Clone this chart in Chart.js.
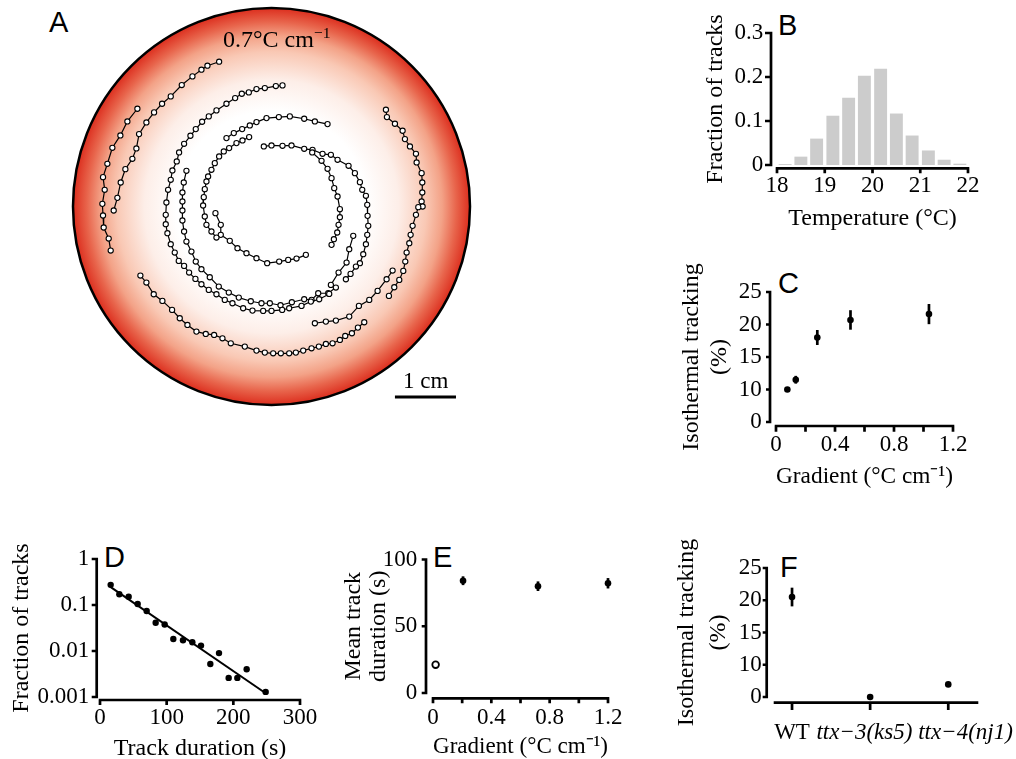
<!DOCTYPE html>
<html lang="en">
<head>
<meta charset="UTF-8">
<title>Isothermal tracking</title>
<style>
  html, body { margin: 0; padding: 0; background: #fff; overflow: hidden; }
  body { width: 1016px; height: 759px; position: relative; font-family: 'Liberation Serif', 'Times New Roman', serif; }
  canvas { position: absolute; }
  .panel { position: absolute; font-family: 'Liberation Sans', Arial, sans-serif; font-size: 29px; line-height: 1; }
  .note { position: absolute; line-height: 1; white-space: nowrap; }
  sup { font-size: 0.65em; line-height: 0; vertical-align: 0.6em; }
</style>
</head>
<body>
<div class="panel" style="left:49px;top:8px">A</div>
<div class="panel" style="left:778px;top:11px">B</div>
<div class="panel" style="left:778px;top:269px">C</div>
<div class="panel" style="left:104px;top:543px">D</div>
<div class="panel" style="left:433px;top:543px">E</div>
<div class="panel" style="left:780px;top:553px">F</div>

<canvas id="chartA" width="420" height="420" style="left:60px;top:0px"></canvas>
<canvas id="chartB" width="310" height="233" style="left:700px;top:0px"></canvas>
<canvas id="chartC" width="335" height="241" style="left:675px;top:250px"></canvas>
<canvas id="chartD" width="325" height="233" style="left:5px;top:530px"></canvas>
<canvas id="chartE" width="310" height="231" style="left:340px;top:530px"></canvas>
<canvas id="chartF" width="387" height="229" style="left:670px;top:530px"></canvas>

<div class="note" style="left:223px;top:27px;font-size:24px">0.7°C cm<sup>−1</sup></div>
<div class="note" style="left:403px;top:369px;font-size:23px">1 cm</div>

<script src="https://cdn.jsdelivr.net/npm/chart.js"></script>
<script>
// ---------- A: tracks on the radial gradient plate ----------
// plate coordinates in image units (about 183 units per cm), y grows downwards
const plateCenter = [635, 620];
const plateRadius = 595;
const scaleBarX = [1005, 1188];
const scaleBarY = 1191;

const track1 = [[478,186],[443,198],[425,210],[398,230],[366,256],[333,290],[307,312],[283,338],[260,368],[238,403],[230,446],[218,477],[197,508],[183,548],[173,594],[162,632]];
const track2 = [[233,327],[203,365],[182,407],[158,444],[143,492],[130,532],[135,570],[128,612],[130,647],[132,683],[147,716],[153,752]];
const track3 = [[668,257],[648,259],[615,265],[590,268],[567,278],[546,282],[526,295],[500,312],[470,332],[447,350],[427,366],[408,388],[392,408],[373,432],[358,458],[351,485],[338,512],[333,540],[325,570],[320,608],[318,645],[318,673],[323,700],[333,733],[345,758],[357,783],[373,798],[388,818],[407,837],[425,853],[447,870],[470,883],[495,900],[518,910],[550,925],[578,932],[610,933],[635,933],[667,930],[688,925],[725,918],[753,905],[778,898],[808,882]];
const track4 = [[380,513],[372,548],[368,578],[368,605],[368,632],[368,662],[373,695],[380,725],[395,755],[408,785],[425,808],[450,832],[477,860],[507,878],[537,893],[573,904],[605,910],[630,910],[662,916],[696,907],[733,898],[755,900],[775,880],[805,880],[828,863]];
const track5 = [[568,412],[548,422],[530,430],[508,445],[492,455],[478,470],[465,490],[455,510],[445,530],[440,545],[435,568],[432,592],[430,617],[435,650],[440,675],[455,695],[470,713]];
const track6 = [[500,415],[522,400],[547,388],[570,377],[590,367],[620,355],[657,352],[690,350],[733,357],[765,365],[803,373]];
const track7 = [[467,640],[483,675],[483,705],[510,723],[533,745],[560,760],[590,775],[622,790],[658,785],[685,780],[710,776],[738,765]];
const track8 = [[757,458],[785,483],[803,507],[815,535],[823,565],[833,590],[840,628],[840,652],[836,675],[832,698],[822,718],[815,735]];
const track9 = [[612,440],[635,437],[668,438],[695,437],[733,447],[758,450],[788,462],[813,465],[833,480],[866,498],[885,520],[900,547],[907,570],[918,588],[922,615],[923,648],[925,678],[922,705],[918,733],[910,763],[900,790],[888,800],[872,822],[858,838]];
const track10 = [[880,708],[868,748],[860,788],[836,818],[813,855]];
const track11 = [[765,970],[798,965],[828,962],[868,950],[897,918],[928,900],[953,873],[980,838],[998,812]];
const track12 = [[978,330],[981,352],[1005,372],[1028,393],[1035,418],[1050,440],[1068,462],[1070,488],[1085,520],[1087,548],[1087,578],[1085,605],[1088,620],[1075,622],[1068,645],[1058,678],[1052,705],[1048,730],[1040,758],[1036,785],[1030,813],[1018,840],[1003,862],[987,888]];
const track13 = [[242,827],[260,848],[282,883],[308,903],[337,930],[360,955],[383,975],[410,995],[438,1002],[463,1005],[488,1015],[513,1030],[555,1040],[590,1052],[615,1058],[640,1060],[663,1060],[688,1060],[708,1058],[730,1052],[755,1045],[777,1040],[798,1032],[818,1030],[840,1020],[856,1008],[876,1000],[894,983],[913,967]];
const tracks = [track1, track2, track3, track4, track5, track6, track7, track8, track9, track10, track11, track12, track13];

// ---------- B: temperature histogram ----------
const tempBins = [18.17, 18.5, 18.83, 19.17, 19.5, 19.83, 20.17, 20.5, 20.83, 21.17, 21.5, 21.83];
const fracTracks = [0.002, 0.019, 0.060, 0.112, 0.153, 0.203, 0.219, 0.117, 0.067, 0.033, 0.012, 0.003];

// ---------- C: isothermal tracking vs gradient ----------
const gradC = [0.077, 0.134, 0.28, 0.505, 1.037];
const isoC = [10.0, 11.5, 18.0, 20.7, 21.6];
const isoCErr = [0.3, 0.6, 1.15, 1.5, 1.55];

// ---------- D: track duration distribution ----------
const durD = [16, 29, 43, 56.5, 70, 83.5, 97, 110, 124.5, 138.5, 151.5, 165.5, 178.5, 193, 206, 220, 248.5];
const fracD = [0.274, 0.171, 0.152, 0.105, 0.074, 0.041, 0.0377, 0.0183, 0.0171, 0.0155, 0.0131, 0.0052, 0.0090, 0.0026, 0.0026, 0.0040, 0.00129];
const fitDx = [15, 248];
const fitDy = [0.25, 0.00122];

// ---------- E: mean track duration ----------
const gradE = [0.206, 0.72, 1.2];
const durE = [84.1, 80.0, 82.2];
const durEErr = [3.3, 3.6, 3.9];
const gradE0 = [0.018];
const durE0 = [21.2];

// ---------- F: mutants ----------
const strains = ['WT', 'ttx\u22123(ks5)', 'ttx\u22124(nj1)'];
const isoF = [20.5, 0, 3.9];
const isoFErr = [1.45, 0, 0];

// the 0-10 % stretch of the C and F axes is squeezed into one tick interval
function brk(v) { return v >= 10 ? v : 5 + v / 2; }

const serif = "'Liberation Serif', 'Times New Roman', serif";

// axis lines drawn a little away from the plot area, like the original figure
const frameAxes = {
    id: 'frameAxes',
    afterDraw(chart, args, o) {
        const { ctx, chartArea: a, scales: { x, y } } = chart;
        const lx = a.left - o.gapY;
        const ly = a.bottom + o.gapX;
        ctx.save();
        ctx.strokeStyle = '#000';
        ctx.lineWidth = 2.7;
        ctx.beginPath();
        ctx.moveTo(lx, y.getPixelForValue(y.min) + 1.3);
        ctx.lineTo(lx, y.getPixelForValue(y.max) - 1.3);
        y.ticks.forEach(t => {
            const p = y.getPixelForValue(t.value);
            ctx.moveTo(lx, p);
            ctx.lineTo(lx - o.tickY, p);
        });
        ctx.moveTo(x.getPixelForValue(x.min) - 1.3, ly);
        ctx.lineTo(x.getPixelForValue(x.max) + 1.3, ly);
        x.ticks.forEach(t => {
            const p = x.getPixelForValue(t.value);
            ctx.moveTo(p, ly);
            ctx.lineTo(p, ly + o.tickX);
        });
        ctx.stroke();
        ctx.restore();
    }
};

const errorBars = {
    id: 'errorBars',
    beforeDatasetsDraw(chart) {
        const { ctx, scales: { x, y } } = chart;
        ctx.save();
        ctx.strokeStyle = '#000';
        ctx.lineWidth = 2.7;
        chart.data.datasets.forEach(ds => {
            if (!ds.errors) return;
            ds.data.forEach((p, i) => {
                const e = ds.errors[i];
                if (!e || e[0] === e[1]) return;
                const px = x.getPixelForValue(p.x);
                ctx.beginPath();
                ctx.moveTo(px, y.getPixelForValue(e[0]));
                ctx.lineTo(px, y.getPixelForValue(e[1]));
                ctx.stroke();
            });
        });
        ctx.restore();
    }
};

const plate = {
    id: 'plate',
    beforeDatasetsDraw(chart) {
        const { ctx, scales: { x, y } } = chart;
        const cx = x.getPixelForValue(plateCenter[0]);
        const cy = y.getPixelForValue(plateCenter[1]);
        const r = x.getPixelForValue(plateCenter[0] + plateRadius) - cx;
        const g = ctx.createRadialGradient(cx, cy, 0, cx, cy, r);
        g.addColorStop(0, '#ffffff');
        g.addColorStop(0.48, '#ffffff');
        g.addColorStop(0.64, '#fdeee8');
        g.addColorStop(0.78, '#f9c8b4');
        g.addColorStop(0.86, '#f3a287');
        g.addColorStop(0.93, '#e8654c');
        g.addColorStop(1, '#dc2e1e');
        ctx.save();
        ctx.beginPath();
        ctx.arc(cx, cy, r, 0, Math.PI * 2);
        ctx.fillStyle = g;
        ctx.fill();
        ctx.lineWidth = 2.5;
        ctx.strokeStyle = '#000';
        ctx.stroke();
        ctx.beginPath();
        ctx.moveTo(x.getPixelForValue(scaleBarX[0]), y.getPixelForValue(scaleBarY));
        ctx.lineTo(x.getPixelForValue(scaleBarX[1]), y.getPixelForValue(scaleBarY));
        ctx.lineWidth = 3.2;
        ctx.stroke();
        ctx.restore();
    }
};

// common axis builders
function yAxis(o) {
    return {
        type: o.type || 'linear',
        min: o.min,
        max: o.max,
        afterFit: s => { s.width = o.width; },
        afterBuildTicks: s => { s.ticks = o.ticks.map(v => ({ value: v })); },
        grid: { display: false, drawTicks: false },
        border: { display: false },
        ticks: { color: '#000', font: { family: serif, size: 23 }, padding: o.pad, autoSkip: false, callback: o.label || (v => String(v)) },
        title: { display: true, text: o.title, color: '#000', font: { family: serif, size: 24, lineHeight: o.lh || 1.2 }, padding: { top: o.tpad, bottom: 0 } }
    };
}

function xAxis(o) {
    return {
        type: 'linear',
        min: o.min,
        max: o.max,
        offset: false,
        afterFit: s => { s.height = o.height; },
        afterBuildTicks: s => { s.ticks = o.ticks.map(v => ({ value: v })); },
        grid: { display: false, drawTicks: false },
        border: { display: false },
        ticks: { color: '#000', font: o.font || { family: serif, size: 23 }, padding: o.pad, autoSkip: false, maxRotation: 0, callback: o.label || (v => String(v)) },
        title: { display: !!o.title, text: o.title || '', color: '#000', font: { family: serif, size: 24 }, padding: { top: 0, bottom: 0 } }
    };
}

const halfLabels = (v, i) => (i % 2 ? '' : String(+v.toFixed(1)));
// the mutant names sit a little off their ticks in the original; en spaces nudge them
const strainLabel = v => ['WT', strains[1] + '\u2002', '\u2002\u2002\u2002' + strains[2]][v];
const base = { responsive: false, animation: false, events: [] };
const noLegend = { legend: { display: false }, tooltip: { enabled: false } };

// ---------- chart A ----------
new Chart(document.getElementById('chartA'), {
    type: 'scatter',
    data: {
        datasets: tracks.map(t => ({
            data: t.map(p => ({ x: p[0], y: p[1] })),
            showLine: true,
            borderColor: '#000',
            borderWidth: 1.2,
            pointRadius: 2.6,
            pointBorderWidth: 1.1,
            pointBackgroundColor: '#fff',
            pointBorderColor: '#000',
            clip: false
        }))
    },
    options: {
        ...base,
        layout: { padding: { left: 13, top: 8, right: 10, bottom: 15 } },
        scales: {
            x: { type: 'linear', min: 40, max: 1230, display: false },
            y: { type: 'linear', min: 25, max: 1215, reverse: true, display: false }
        },
        plugins: noLegend
    },
    plugins: [plate]
});

// ---------- chart B ----------
new Chart(document.getElementById('chartB'), {
    type: 'bar',
    data: {
        datasets: [{
            data: tempBins.map((t, i) => ({ x: t, y: fracTracks[i] })),
            backgroundColor: '#cccccc',
            barPercentage: 1,
            categoryPercentage: 0.82
        }]
    },
    options: {
        ...base,
        layout: { padding: { left: 0, top: 33, right: 42, bottom: 0 } },
        scales: {
            x: xAxis({ min: 18, max: 22, ticks: [18, 19, 20, 21, 22], height: 68, pad: 7, title: 'Temperature (°C)' }),
            y: yAxis({ min: 0, max: 0.3, ticks: [0, 0.1, 0.2, 0.3], width: 77, pad: 13.7, tpad: 1, title: 'Fraction of tracks' })
        },
        plugins: { ...noLegend, frameAxes: { gapY: 6, gapX: 3.3, tickY: 6, tickX: 5 } }
    },
    plugins: [frameAxes]
});

// ---------- chart C ----------
new Chart(document.getElementById('chartC'), {
    type: 'scatter',
    data: {
        datasets: [{
            data: gradC.map((g, i) => ({ x: g, y: brk(isoC[i]) })),
            errors: isoC.map((v, i) => [brk(v - isoCErr[i]), brk(v + isoCErr[i])]),
            pointRadius: 3.3,
            pointBorderWidth: 0,
            pointBackgroundColor: '#000',
            clip: false
        }]
    },
    options: {
        ...base,
        layout: { padding: { left: 0, top: 42, right: 57, bottom: 0 } },
        scales: {
            x: xAxis({ min: 0, max: 1.2, ticks: [0, 0.2, 0.4, 0.6, 0.8, 1, 1.2], height: 69, pad: 9.2, label: halfLabels, title: 'Gradient (°C cm\u207B\u00B9)' }),
            y: yAxis({ min: 5, max: 25, ticks: [5, 10, 15, 20, 25], width: 101, pad: 14.3, tpad: 2.5, lh: 1.18,
                label: v => (v === 5 ? '0' : String(v)), title: ['Isothermal tracking', '(%)'] })
        },
        plugins: { ...noLegend, frameAxes: { gapY: 6, gapX: 4, tickY: 4, tickX: 5.7 } }
    },
    plugins: [frameAxes, errorBars]
});

// ---------- chart D ----------
new Chart(document.getElementById('chartD'), {
    type: 'scatter',
    data: {
        datasets: [{
            data: durD.map((d, i) => ({ x: d, y: fracD[i] })),
            pointRadius: 3.2,
            pointBorderWidth: 0,
            pointBackgroundColor: '#000',
            clip: false
        }, {
            data: fitDx.map((d, i) => ({ x: d, y: fitDy[i] })),
            showLine: true,
            borderColor: '#000',
            borderWidth: 2,
            pointRadius: 0,
            clip: false
        }]
    },
    options: {
        ...base,
        layout: { padding: { left: 0, top: 29, right: 30, bottom: 0 } },
        scales: {
            x: xAxis({ min: 0, max: 300, ticks: [0, 100, 200, 300], height: 66, pad: 7.5, title: 'Track duration (s)' }),
            y: yAxis({ type: 'logarithmic', min: 0.001, max: 1, ticks: [0.001, 0.01, 0.1, 1], width: 95, pad: 10.7, tpad: 2.3, title: 'Fraction of tracks' })
        },
        plugins: { ...noLegend, frameAxes: { gapY: 3.3, gapX: 3, tickY: 5, tickX: 5 } }
    },
    plugins: [frameAxes]
});

// ---------- chart E ----------
new Chart(document.getElementById('chartE'), {
    type: 'scatter',
    data: {
        datasets: [{
            data: gradE.map((g, i) => ({ x: g, y: durE[i] })),
            errors: durE.map((v, i) => [v - durEErr[i], v + durEErr[i]]),
            pointRadius: 3.3,
            pointBorderWidth: 0,
            pointBackgroundColor: '#000',
            clip: false
        }, {
            data: gradE0.map((g, i) => ({ x: g, y: durE0[i] })),
            pointRadius: 3.3,
            pointBorderWidth: 1.8,
            pointBorderColor: '#000',
            pointBackgroundColor: '#fff',
            clip: false
        }]
    },
    options: {
        ...base,
        layout: { padding: { left: 0, top: 25, right: 42, bottom: 0 } },
        scales: {
            x: xAxis({ min: 0, max: 1.2, ticks: [0, 0.2, 0.4, 0.6, 0.8, 1, 1.2], height: 68, pad: 11.5, label: halfLabels, title: 'Gradient (°C cm\u207B\u00B9)' }),
            y: yAxis({ min: 0, max: 100, ticks: [0, 50, 100], width: 93, pad: 15.7, tpad: 0.8, lh: 1.04, title: ['Mean track', 'duration (s)'] })
        },
        plugins: { ...noLegend, frameAxes: { gapY: 7, gapX: 5.3, tickY: 4.3, tickX: 5 } }
    },
    plugins: [frameAxes, errorBars]
});

// ---------- chart F ----------
new Chart(document.getElementById('chartF'), {
    type: 'scatter',
    data: {
        datasets: [{
            data: strains.map((s, i) => ({ x: i, y: brk(isoF[i]) })),
            errors: isoF.map((v, i) => [brk(v - isoFErr[i]), brk(v + isoFErr[i])]),
            pointRadius: 3.3,
            pointBorderWidth: 0,
            pointBackgroundColor: '#000',
            clip: false
        }]
    },
    options: {
        ...base,
        layout: { padding: { left: 0, top: 38, right: 80, bottom: 0 } },
        scales: {
            x: xAxis({ min: -0.218, max: 2.368, ticks: [0, 1, 2], height: 62, pad: 22.5,
                font: c => ({ family: serif, size: 23, style: c.index === 0 ? 'normal' : 'italic' }),
                label: strainLabel }),
            y: yAxis({ min: 5, max: 25, ticks: [5, 10, 15, 20, 25], width: 105, pad: 13.3, tpad: 0.9, lh: 1.32,
                label: v => (v === 5 ? '0' : String(v)), title: ['Isothermal tracking', '(%)'] })
        },
        plugins: { ...noLegend, frameAxes: { gapY: 8.3, gapX: 5.7, tickY: 4, tickX: 7.3 } }
    },
    plugins: [frameAxes, errorBars]
});
</script>
</body>
</html>
